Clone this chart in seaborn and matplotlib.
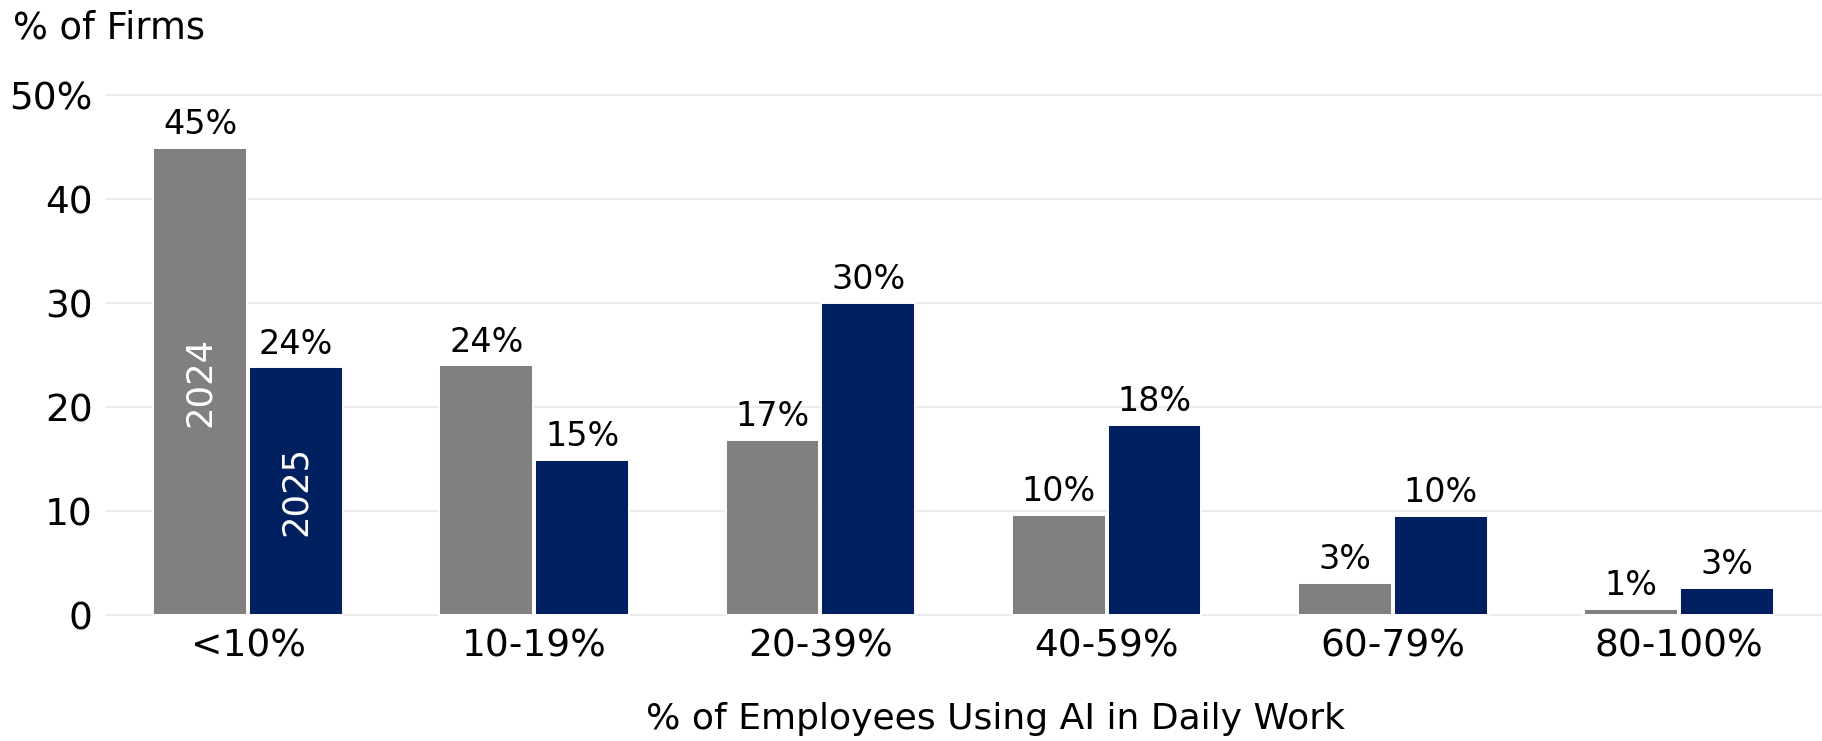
import matplotlib
matplotlib.use("Agg")
import matplotlib.pyplot as plt
import seaborn as sns
import pandas as pd

# Share of firms by share of employees using AI daily
categories = ["<10%", "10-19%", "20-39%", "40-59%", "60-79%", "80-100%"]
years = ["2024", "2025"]
firms_2024 = [44.9, 24.0, 16.8, 9.6, 3.1, 0.6]
firms_2025 = [23.8, 14.9, 30.0, 18.3, 9.5, 2.6]
y_ticks = [0, 10, 20, 30, 40, 50]
y_tick_labels = ["0", "10", "20", "30", "40", "50%"]

df = pd.DataFrame({
    "bucket": categories * 2,
    "year": [years[0]] * len(categories) + [years[1]] * len(categories),
    "share": firms_2024 + firms_2025,
})

sns.set_theme(style="white")
plt.rcParams["font.family"] = ["DejaVu Sans"]
plt.rcParams["text.color"] = "black"

fig = plt.figure(figsize=(18.22, 7.41), dpi=100)
ax = fig.add_axes([105 / 1822, 1 - 620.2 / 741, 1 - 105 / 1822, (620.2 - 74.2) / 741])

palette = {"2024": "#808080", "2025": "#00205f"}
sns.barplot(data=df, x="bucket", y="share", hue="year", order=categories,
            hue_order=years, palette=palette, width=0.67, gap=0.02,
            edgecolor="white", linewidth=1.4, saturation=1, legend=False,
            errorbar=None, ax=ax, zorder=3)

ax.set_xlim(-0.5, 5.5)
ax.set_ylim(-0.5, 52)
ax.set_yticks(y_ticks)
ax.set_yticklabels(y_tick_labels)
ax.grid(axis="y", color="#e6e6e6", linewidth=1.1, zorder=0)
ax.grid(axis="x", visible=False)
ax.set_axisbelow(True)
for s in ax.spines.values():
    s.set_visible(False)
ax.tick_params(axis="both", length=0, labelsize=27, colors="black")
ax.tick_params(axis="x", pad=6)
ax.tick_params(axis="y", pad=9)
ax.set_xlabel("")
ax.set_ylabel("")

# value labels above each bar, and the year name inside the first bar of each series
for k, (container, vals) in enumerate(zip(ax.containers, [firms_2024, firms_2025])):
    for patch, v in zip(container.patches, vals):
        cx = patch.get_x() + patch.get_width() / 2
        ax.annotate(f"{v:.0f}%", xy=(cx, v), xytext=(0, 10), textcoords="offset points",
                    ha="center", va="baseline", fontsize=24, color="black")
    first = container.patches[0]
    ax.text(first.get_x() + first.get_width() / 2, vals[0] / 2, years[k],
            rotation=90, ha="center", va="center", color="white", fontsize=25.5, zorder=5)

fig.text(13 / 1822, 1 - 38.3 / 741, "% of Firms", ha="left", va="baseline",
         fontsize=26.5, color="black")
fig.text(996 / 1822, 1 - 728.5 / 741, "% of Employees Using AI in Daily Work",
         ha="center", va="baseline", fontsize=26, color="black")

fig.savefig("out.png", dpi=100)
